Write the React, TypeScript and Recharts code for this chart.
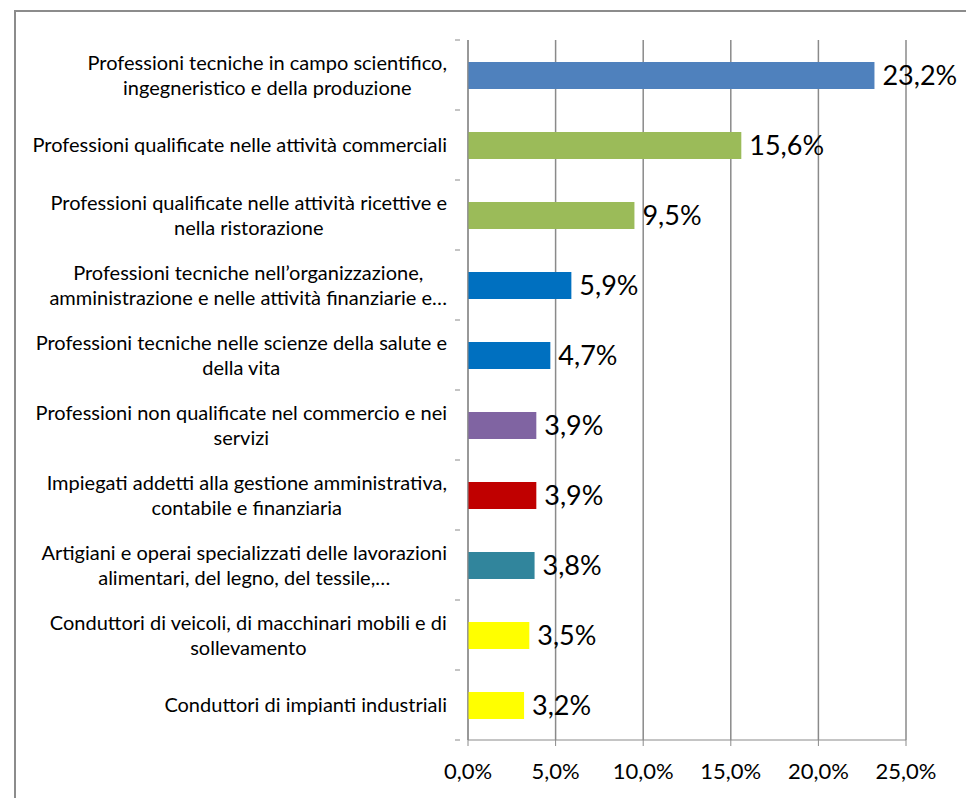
import React from "react"
import { BarChart, Bar, XAxis, YAxis, CartesianGrid, Cell, LabelList } from "recharts"

// categorie (righe già spezzate come nel grafico originale)
const categorie: string[][] = [
    ["Professioni tecniche in campo scientifico,", "ingegneristico e della produzione"],
    ["Professioni qualificate nelle attività commerciali"],
    ["Professioni qualificate nelle attività ricettive e", "nella ristorazione"],
    ["Professioni tecniche nell’organizzazione,", "amministrazione e nelle attività finanziarie e…"],
    ["Professioni tecniche nelle scienze della salute e", "della vita"],
    ["Professioni non qualificate nel commercio e nei", "servizi"],
    ["Impiegati addetti alla gestione amministrativa,", "contabile e finanziaria"],
    ["Artigiani e operai specializzati delle lavorazioni", "alimentari, del legno, del tessile,…"],
    ["Conduttori di veicoli, di macchinari mobili e di", "sollevamento"],
    ["Conduttori di impianti industriali"],
]

const percentuali = [23.2, 15.6, 9.5, 5.9, 4.7, 3.9, 3.9, 3.8, 3.5, 3.2]

const colori = ["#4F81BD", "#9BBB59", "#9BBB59", "#0070C0", "#0070C0", "#8064A2", "#C00000", "#31859C", "#FFFF00", "#FFFF00"]

const tickX = [0, 5, 10, 15, 20, 25]

const data = categorie.map((righe, i) => ({ nome: righe.join(" "), righe, valore: percentuali[i] }))

const FONT = "Lato, 'Open Sans', sans-serif"
const LABEL_SIZE = 20
const TOP = 40
const PLOT_H = 700
const STEP = PLOT_H / data.length

let ctx: CanvasRenderingContext2D | null = null
const misura = (t: string) => {
    if (!ctx) ctx = document.createElement("canvas").getContext("2d")
    if (!ctx) return t.length * 8
    ctx.font = `${LABEL_SIZE}px Lato`
    return ctx.measureText(t).width
}

const fmt = (v: number) => v.toFixed(1).replace(".", ",") + "%"

const CategoriaTick = (props: any) => {
    const { x, y, payload, index } = props
    const righe = data[index]?.righe ?? [payload.value]
    const larg = Math.max(...righe.map(misura))
    const cx = x - 13 - larg / 2
    const y0 = y - ((righe.length - 1) * 25) / 2
    return (
        <g>
            <line x1={x - 5} x2={x} y1={y - STEP / 2} y2={y - STEP / 2} stroke="#8a8a8a" />
            {index === data.length - 1 && <line x1={x - 5} x2={x} y1={y + STEP / 2} y2={y + STEP / 2} stroke="#8a8a8a" />}
            <text textAnchor="middle" fontFamily={FONT} fontSize={LABEL_SIZE} fill="#000">
                {righe.map((r: string, i: number) => (
                    <tspan key={i} x={cx} y={y0 + i * 25} dy="0.35em">{r}</tspan>
                ))}
            </text>
        </g>
    )
}

const Valore = (props: any) => {
    const { x, y, width, height, value } = props
    return (
        <text x={x + width + 8} y={y + height / 2} dy="0.35em" fontFamily={FONT} fontSize={27} fill="#000">
            {fmt(value)}
        </text>
    )
}

const App = () => {
    return (
        <div style={{ position: "fixed", inset: 0, overflow: "hidden", background: "#fff" }}>
            <div style={{ position: "absolute", left: 14, top: 10, width: 1000, height: 900, border: "2px solid #8c8c8c", boxSizing: "border-box" }} />
            <div style={{ position: "absolute", left: 0, top: 0 }}>
                <BarChart
                    width={966}
                    height={798}
                    layout="vertical"
                    data={data}
                    margin={{ top: TOP, right: 60, left: 0, bottom: 798 - TOP - PLOT_H - 40 }}
                >
                    <CartesianGrid horizontal={false} stroke="#8a8a8a" strokeWidth={1.5} />
                    <XAxis
                        type="number"
                        domain={[0, 25]}
                        ticks={tickX}
                        tickFormatter={fmt}
                        height={40}
                        stroke="#8a8a8a"
                        tickSize={6}
                        tick={{ fill: "#000", fontSize: 22, fontFamily: FONT, dy: 15 }}
                        interval={0}
                    />
                    <YAxis
                        type="category"
                        dataKey="nome"
                        width={468}
                        stroke="#8a8a8a"
                        tickLine={false}
                        tick={<CategoriaTick />}
                        interval={0}
                    />
                    <Bar dataKey="valore" barSize={27} isAnimationActive={false}>
                        {data.map((d, i) => (
                            <Cell key={d.nome} fill={colori[i]} />
                        ))}
                        <LabelList dataKey="valore" content={<Valore />} />
                    </Bar>
                </BarChart>
            </div>
        </div>
    )
}

export default App
